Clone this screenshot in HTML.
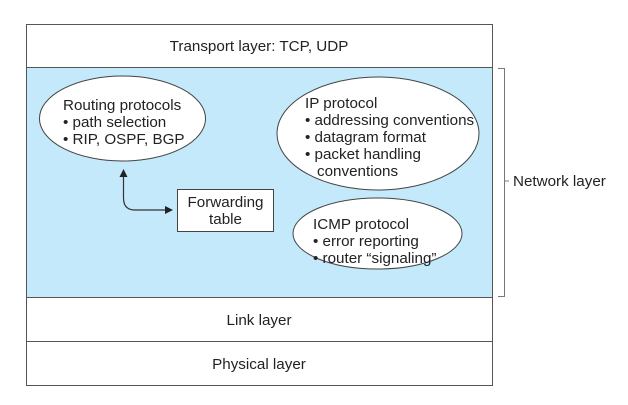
<!DOCTYPE html>
<html><head><meta charset="utf-8"><style>
body{margin:0;background:#fff;width:628px;height:400px;overflow:hidden}
svg text{font-family:"Liberation Sans",sans-serif;font-size:15.2px;fill:#222}
</style></head><body>
<svg width="628" height="400" xmlns="http://www.w3.org/2000/svg">
<rect x="26.5" y="24.5" width="466" height="361" fill="#fff" stroke="#555"/>
<rect x="26.5" y="67.5" width="466" height="230" fill="#c3e9fa" stroke="#555"/>
<line x1="26" y1="341.5" x2="493" y2="341.5" stroke="#555"/>
<text x="259" y="51" text-anchor="middle">Transport layer: TCP, UDP</text>
<text x="259" y="325" text-anchor="middle">Link layer</text>
<text x="259" y="369" text-anchor="middle">Physical layer</text>
<path d="M498 68.5H504.5V296.5H498M504.5 181H509" fill="none" stroke="#777"/>
<text x="513" y="186">Network layer</text>
<ellipse cx="122.5" cy="118.5" rx="83" ry="42.5" fill="#fff" stroke="#444"/>
<text x="63" y="110">Routing protocols</text>
<text x="63" y="127">• path selection</text>
<text x="63" y="144">• RIP, OSPF, BGP</text>
<ellipse cx="378" cy="133.5" rx="101" ry="56.5" fill="#fff" stroke="#444"/>
<text x="305" y="108">IP protocol</text>
<text x="305" y="125">• addressing conventions</text>
<text x="305" y="142">• datagram format</text>
<text x="305" y="159">• packet handling</text>
<text x="317" y="176">conventions</text>
<ellipse cx="377.5" cy="233.5" rx="84.5" ry="35.5" fill="#fff" stroke="#444"/>
<text x="313" y="229">ICMP protocol</text>
<text x="313" y="246">• error reporting</text>
<text x="313" y="263">• router “signaling”</text>
<rect x="177.5" y="189.5" width="96" height="42" fill="#fff" stroke="#444"/>
<text x="225.5" y="207" text-anchor="middle">Forwarding</text>
<text x="225.5" y="224" text-anchor="middle">table</text>
<path d="M123.5 176V198Q123.5 210 135 210H166" fill="none" stroke="#333" stroke-width="1.2"/>
<polygon points="123.5,169 119.5,177 127.5,177" fill="#222"/>
<polygon points="173,210 165,206 165,214" fill="#222"/>
</svg>
</body></html>
